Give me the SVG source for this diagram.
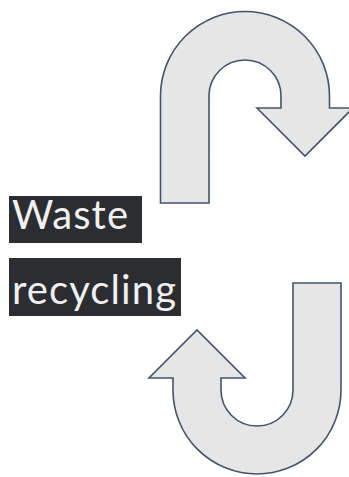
<svg xmlns="http://www.w3.org/2000/svg" width="349" height="477" viewBox="0 0 349 477">
<style>
.arrow{fill:#e6e6e6;stroke:#44546a;stroke-width:1.6;stroke-linejoin:miter}
.box{fill:#2b2d31}
.lbl{font-family:Lato,"Open Sans",sans-serif;font-size:40px;fill:#f0f0f2}
</style>
<rect width="349" height="477" fill="#ffffff"/>
<g id="connectors">
<path id="arrow-top" class="arrow" d="M160.5,203 L160.5,96 A84.5,84.5 0 0 1 329.5,96 L329.5,108 L353,108 L305,156 L257,108 L281,108 L281,96 A36,36 0 0 0 209,96 L209,203 Z"/>
<path id="arrow-bottom" class="arrow" d="M293,283 L341,283 L341,390 A84,84 0 0 1 173,390 L173,378 L149,378 L197,330 L245,378 L221,378 L221,390 A36,36 0 0 0 293,390 Z"/>
</g>
<g id="label-waste">
<rect class="box" x="9" y="196" width="133" height="47"/>
<text class="lbl" x="12" y="229" textLength="116" lengthAdjust="spacing">Waste</text>
</g>
<g id="label-recycling">
<rect class="box" x="9" y="258" width="172" height="58"/>
<text class="lbl" x="12" y="304" textLength="164" lengthAdjust="spacing">recycling</text>
</g>
</svg>
